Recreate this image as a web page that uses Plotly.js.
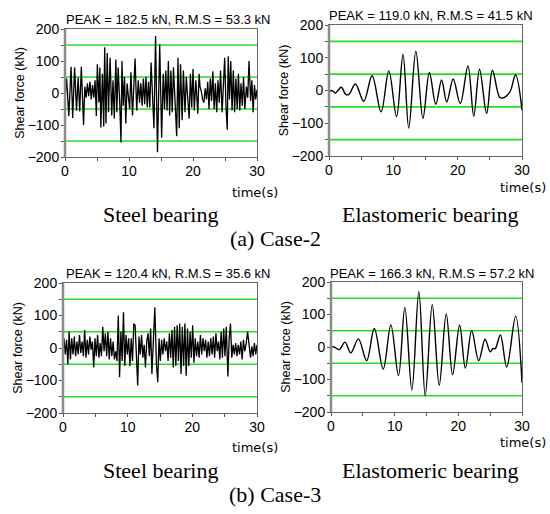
<!DOCTYPE html>
<html>
<head>
<meta charset="utf-8">
<script src="https://cdn.plot.ly/plotly-3.0.1.min.js"></script>
<style>html,body{margin:0;padding:0;background:#fff;}#chart{width:550px;height:514px;}</style>
</head>
<body>
<div id="chart"></div>
<script>
// ---- Data ----
// Case-2, steel bearing
const c2SteelT = [0.0,0.25,0.6,0.95,1.2,1.5,1.8,2.05,2.3,2.55,2.9,3.1,3.3,3.5,3.7,3.9,4.1,4.3,4.5,4.7,4.9,5.05,5.3,5.45,5.6,5.85,6.05,6.2,6.4,6.6,6.8,7.05,7.3,7.5,7.7,7.95,8.1,8.3,8.55,8.75,8.9,9.1,9.3,9.5,9.7,9.9,10.1,10.3,10.55,10.95,11.2,11.45,11.65,11.85,12.05,12.25,12.45,12.65,12.85,13.05,13.25,13.45,13.7,13.9,14.15,14.45,14.8,15.1,15.35,15.55,15.75,15.95,16.15,16.35,16.55,16.75,16.95,17.2,17.45,17.65,17.85,18.05,18.3,18.5,18.75,18.95,19.2,19.4,19.6,19.8,20.0,20.2,20.45,20.75,20.95,21.1,21.3,21.5,21.7,21.9,22.1,22.3,22.5,22.7,22.9,23.1,23.3,23.5,23.7,23.9,24.1,24.3,24.55,24.95,25.15,25.35,25.5,25.7,25.9,26.1,26.3,26.5,26.7,26.9,27.1,27.3,27.5,27.7,27.9,28.1,28.35,28.55,28.75,29.0,29.2,29.4,29.6,29.8,30.0];
const c2SteelF = [-20,45,-72,82,-78,80,-55,48,-58,82,-100,20,-15,30,-10,35,-20,25,-15,40,-72,90,-30,80,-108,60,-105,143,-95,125,-60,110,-70,40,-80,105,-60,80,-30,-155,100,-40,50,-95,30,-10,-50,65,-70,108,-55,40,-30,30,-40,45,-35,50,-45,35,-45,95,-20,-110,178,-185,152,-140,60,-50,70,-55,100,-70,70,-60,80,-40,-135,110,-110,90,-85,70,-60,50,-45,-80,60,-45,75,-55,40,-65,60,20,5,-20,-30,15,-20,35,-50,45,-25,68,-50,30,-60,40,-30,70,-60,110,-40,-115,115,-20,100,-55,70,-60,45,-50,60,-55,30,-40,50,-50,20,-15,100,-25,40,-60,25,-20,10];

// Case-2, elastomeric bearing (extrema of the smooth response)
const c2ElastT = [0,0.4,0.7,1.0,1.9,2.6,3.1,4.1,5.4,6.7,8.1,9.3,10.5,11.5,12.4,13.5,14.6,15.6,16.6,17.5,18.3,19.3,20.4,21.6,22.5,23.4,24.5,25.4,26.5,27.0,28.1,29.0,30.0];
const c2ElastF = [-3,0,-3,-8,10,-12,-12,20,-33,45,-65,60,-80,110,-115,120,-85,55,-42,32,-35,35,-40,75,-78,65,-70,62,-20,-23,-5,48,-60];

// Case-3, steel bearing
const c3SteelT = [0.0,0.15,0.35,0.55,0.75,0.95,1.15,1.35,1.55,1.75,1.95,2.15,2.35,2.55,2.75,2.95,3.15,3.35,3.55,3.75,3.95,4.15,4.35,4.55,4.75,4.95,5.15,5.35,5.55,5.75,5.95,6.15,6.35,6.55,6.75,6.95,7.15,7.35,7.55,7.75,7.95,8.15,8.35,8.55,8.75,8.95,9.15,9.35,9.55,9.75,9.95,10.15,10.35,10.55,10.75,10.95,11.15,11.35,11.55,11.75,11.95,12.15,12.35,12.55,12.75,12.95,13.15,13.35,13.55,13.75,13.95,14.2,14.45,14.65,14.85,15.05,15.25,15.45,15.65,15.85,16.05,16.25,16.45,16.65,16.85,17.05,17.25,17.45,17.65,17.85,18.05,18.25,18.45,18.65,18.85,19.05,19.25,19.45,19.65,19.85,20.05,20.25,20.45,20.65,20.85,21.05,21.25,21.45,21.65,21.85,22.05,22.25,22.45,22.65,22.85,23.05,23.25,23.45,23.65,23.85,24.05,24.25,24.45,24.65,24.85,25.05,25.25,25.5,25.7,25.9,26.1,26.3,26.5,26.7,26.9,27.1,27.3,27.5,27.7,27.9,28.1,28.3,28.55,28.8,29.0,29.2,29.4,29.6,29.8,30.0];
const c3SteelF = [0,30,-20,25,-50,50,-35,30,-20,35,-25,20,-20,40,-15,20,-25,55,-30,25,-20,35,-5,20,-60,30,-25,40,-30,15,-25,65,-10,45,-25,50,-35,30,-25,20,-35,-10,-40,100,-90,50,-40,110,-55,40,-20,30,-55,30,-40,75,70,-50,-115,35,-20,40,-30,10,-60,20,45,-25,60,-80,40,125,-50,-105,30,-40,25,-20,30,-10,20,-40,45,-30,55,-60,65,-55,70,-40,75,-80,65,-55,75,-85,60,-55,50,-30,70,-45,30,-25,20,-30,40,-20,30,-10,25,-30,20,-25,30,-20,35,-30,45,-10,20,-35,50,-30,60,-25,65,-88,30,75,-30,10,-20,15,-25,10,-20,20,-35,25,-10,10,50,-5,-30,5,-25,15,-20,10];

// Case-3, elastomeric bearing (extrema of the smooth response)
const c3ElastT = [0,0.5,1.3,2.2,3.1,4.3,5.6,6.8,8.2,9.4,10.6,11.6,12.7,13.8,14.8,15.9,17.0,18.1,19.1,20.2,21.1,22.1,23.2,24.2,25.0,25.4,25.8,26.6,27.6,29.0,30.0];
const c3ElastF = [0,0,-8,15,-18,25,-42,57,-68,68,-88,122,-132,170,-150,130,-118,102,-85,67,-65,50,-42,24,-15,-5,-5,37,-62,95,-110];

const peakLabels = [
  "PEAK = 182.5 kN, R.M.S = 53.3 kN",
  "PEAK = 119.0 kN, R.M.S = 41.5 kN",
  "PEAK = 120.4 kN, R.M.S = 35.6 kN",
  "PEAK = 166.3 kN, R.M.S = 57.2 kN"
];
const bearingLabels = ["Steel bearing", "Elastomeric bearing"];
const caseLabels = ["(a) Case-2", "(b) Case-3"];
const refLevels = [150, 50, -50, -150];
const xTicks = [0, 10, 20, 30];
const yTicks = [-200, -100, 0, 100, 200];

// ---- Layout helpers ----
const W = 550, H = 514;
const px = v => v / W;
const py = v => 1 - v / H;

// plot boxes in pixels: [left, right, top, bottom]
const boxes = [
  [65, 257, 29, 157],
  [329, 522, 25, 156],
  [63, 257, 283, 413],
  [331, 522, 282, 412]
];

const sans = "Liberation Sans, Arial, sans-serif";
const serif = "Liberation Serif, Times New Roman, serif";
const tickFont = {family: sans, size: 14, color: "#000"};

function xAxis(i) {
  const b = boxes[i];
  return {
    domain: [px(b[0]), px(b[1])],
    anchor: i === 0 ? "y" : "y" + (i + 1),
    range: [0, 30], tickvals: xTicks, ticks: "outside", ticklen: 3, tickcolor: "#555",
    ticklabelstandoff: -2,
    minor: {dtick: 5, tick0: 0, ticks: "outside", ticklen: 3, tickcolor: "#555"},
    showline: true, mirror: true, linecolor: "#666", linewidth: 1,
    showgrid: false, zeroline: false, tickfont: tickFont, fixedrange: true
  };
}
function yAxis(i) {
  const b = boxes[i];
  return {
    domain: [py(b[3]), py(b[2])],
    anchor: i === 0 ? "x" : "x" + (i + 1),
    range: [-200, 200], tickvals: yTicks, ticks: "outside", ticklen: 3, tickcolor: "#555",
    ticklabelstandoff: -1,
    minor: {dtick: 50, tick0: 0, ticks: "outside", ticklen: 3, tickcolor: "#555"},
    showline: true, mirror: true, linecolor: "#666", linewidth: 1,
    showgrid: false, zeroline: false, tickfont: tickFont, fixedrange: true,
    title: {text: "Shear force (kN)", font: {family: sans, size: 12.5, color: "#000"}, standoff: 0}
  };
}

const series = [
  {t: c2SteelT, f: c2SteelF, smooth: false},
  {t: c2ElastT, f: c2ElastF, smooth: true},
  {t: c3SteelT, f: c3SteelF, smooth: false},
  {t: c3ElastT, f: c3ElastF, smooth: true}
];

const traces = series.map((s, i) => ({
  type: "scatter", mode: "lines",
  x: s.t, y: s.f,
  xaxis: i === 0 ? "x" : "x" + (i + 1),
  yaxis: i === 0 ? "y" : "y" + (i + 1),
  line: s.smooth ? {color: "#000", width: 1.4, shape: "spline", smoothing: 1.0} : {color: "#000", width: 1.3},
  hoverinfo: "skip", showlegend: false
}));

const shapes = [];
series.forEach((s, i) => {
  const xr = i === 0 ? "x" : "x" + (i + 1);
  const yr = i === 0 ? "y" : "y" + (i + 1);
  refLevels.forEach(lv => {
    shapes.push({type: "line", xref: xr, yref: yr, x0: 0, x1: 30, y0: lv, y1: lv,
      line: {color: "#22e022", width: 1.6}, layer: "below"});
  });
  // thicker grey left frame edge
  shapes.push({type: "line", xref: xr + " domain", yref: yr + " domain", x0: 0, x1: 0, y0: 0, y1: 1,
    line: {color: "#8a8a8a", width: 2.5}, layer: "above"});
});

const annotations = [];
// peak labels
const peakPos = [[168, 20], [431, 15], [168, 273], [432, 273]];
peakLabels.forEach((t, i) => annotations.push({
  text: t, xref: "paper", yref: "paper", x: px(peakPos[i][0]), y: py(peakPos[i][1]),
  xanchor: "center", yanchor: "middle", showarrow: false, font: {family: sans, size: 13, color: "#000"}
}));
// time(s) labels
const timePos = [[280, 192], [548, 187], [280, 447], [548, 442]];
timePos.forEach(p => annotations.push({
  text: "time(s)", xref: "paper", yref: "paper", x: px(p[0]), y: py(p[1]),
  xanchor: "right", yanchor: "middle", showarrow: false, font: {family: "DejaVu Sans, sans-serif", size: 13, color: "#000"}
}));
// bearing labels
const bearPos = [[160, 214], [430, 214], [160, 470], [430, 470]];
bearPos.forEach((p, i) => annotations.push({
  text: bearingLabels[i % 2], xref: "paper", yref: "paper", x: px(p[0]), y: py(p[1]),
  xanchor: "center", yanchor: "middle", showarrow: false, font: {family: serif, size: 22, color: "#000"}
}));
// case labels
const casePos = [[275, 238], [275, 494]];
casePos.forEach((p, i) => annotations.push({
  text: caseLabels[i], xref: "paper", yref: "paper", x: px(p[0]), y: py(p[1]),
  xanchor: "center", yanchor: "middle", showarrow: false, font: {family: serif, size: 22, color: "#000"}
}));

const layout = {
  width: W, height: H,
  margin: {l: 0, r: 0, t: 0, b: 0},
  paper_bgcolor: "#fff", plot_bgcolor: "#fff",
  showlegend: false,
  shapes: shapes, annotations: annotations
};
for (let i = 0; i < 4; i++) {
  layout[i === 0 ? "xaxis" : "xaxis" + (i + 1)] = xAxis(i);
  layout[i === 0 ? "yaxis" : "yaxis" + (i + 1)] = yAxis(i);
}

Plotly.newPlot("chart", traces, layout, {staticPlot: true, displayModeBar: false});
</script>
</body>
</html>
